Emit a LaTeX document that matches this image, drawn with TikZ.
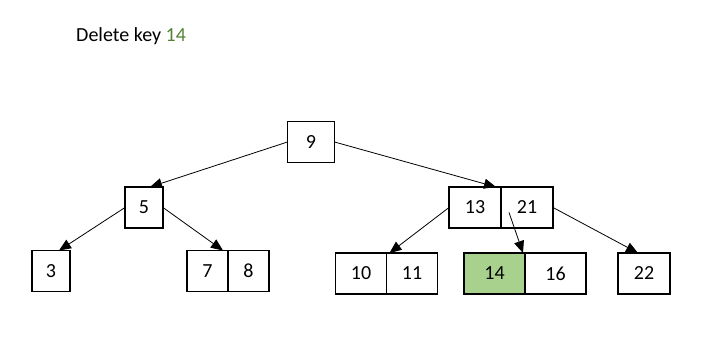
\documentclass[tikz,border=0pt]{standalone}
\usepackage{fontspec}
\setmainfont{Carlito}
\usetikzlibrary{positioning,arrows.meta}
\definecolor{keygreen}{HTML}{548235}
\definecolor{cellgreen}{HTML}{A9D18E}
\tikzset{
  keycell/.style={draw=black, line width=1.9pt, inner sep=0pt, outer sep=0pt, minimum height=41pt},
  ptr/.style={line width=0.8pt, -{Triangle[length=12pt,width=10pt]}}
}
\begin{document}
\begin{tikzpicture}[x=1pt, y=1pt, font=\fontsize{20}{24}\selectfont]
\useasboundingbox (0,0) rectangle (701,347);
% title
\node[anchor=base west, inner sep=0pt] (title) at (76,305) {Delete key \textcolor{keygreen}{14}};
% root
\node[keycell, minimum width=47pt] (k9) at (311,205) {9};
% second level
\node[keycell, minimum width=38pt] (k5) at (144,139.5) {5};
\node[keycell, minimum width=52pt] (k13) at (475,139.5) {13};
\node[keycell, minimum width=52pt, right=0pt of k13] (k21) {21};
% leaves
\node[keycell, minimum width=38pt] (k3) at (51,76) {3};
\node[keycell, minimum width=41pt] (k7) at (207.5,76) {7};
\node[keycell, minimum width=41pt, right=0pt of k7] (k8) {8};
\node[keycell, minimum width=51pt] (k10) at (361,73.5) {10};
\node[keycell, minimum width=51pt, right=0pt of k10] (k11) {11};
\node[keycell, minimum width=61pt, fill=cellgreen] (k14) at (494.5,73.5) {14};
\node[keycell, minimum width=61pt, right=0pt of k14] (k16) {16};
\node[keycell, minimum width=52pt] (k22) at (644,73.5) {22};
% pointers
\draw[ptr] (k9.west) -- ([xshift=6pt]k5.north);
\draw[ptr] (k9.east) -- ([xshift=-5pt]k13.north east);
\draw[ptr] (k5.west) -- ([xshift=8pt]k3.north);
\draw[ptr] (k5.east) -- ([xshift=-5pt]k7.north east);
\draw[ptr] (k13.west) -- ([xshift=3pt]k10.north east);
\coordinate (p21) at ([xshift=8pt,yshift=-5pt]k21.west);
\draw[ptr] (p21) -- ([xshift=-2pt]k14.north east);
\draw[ptr] (k21.east) -- ([xshift=-6pt]k22.north);
\end{tikzpicture}
\end{document}
